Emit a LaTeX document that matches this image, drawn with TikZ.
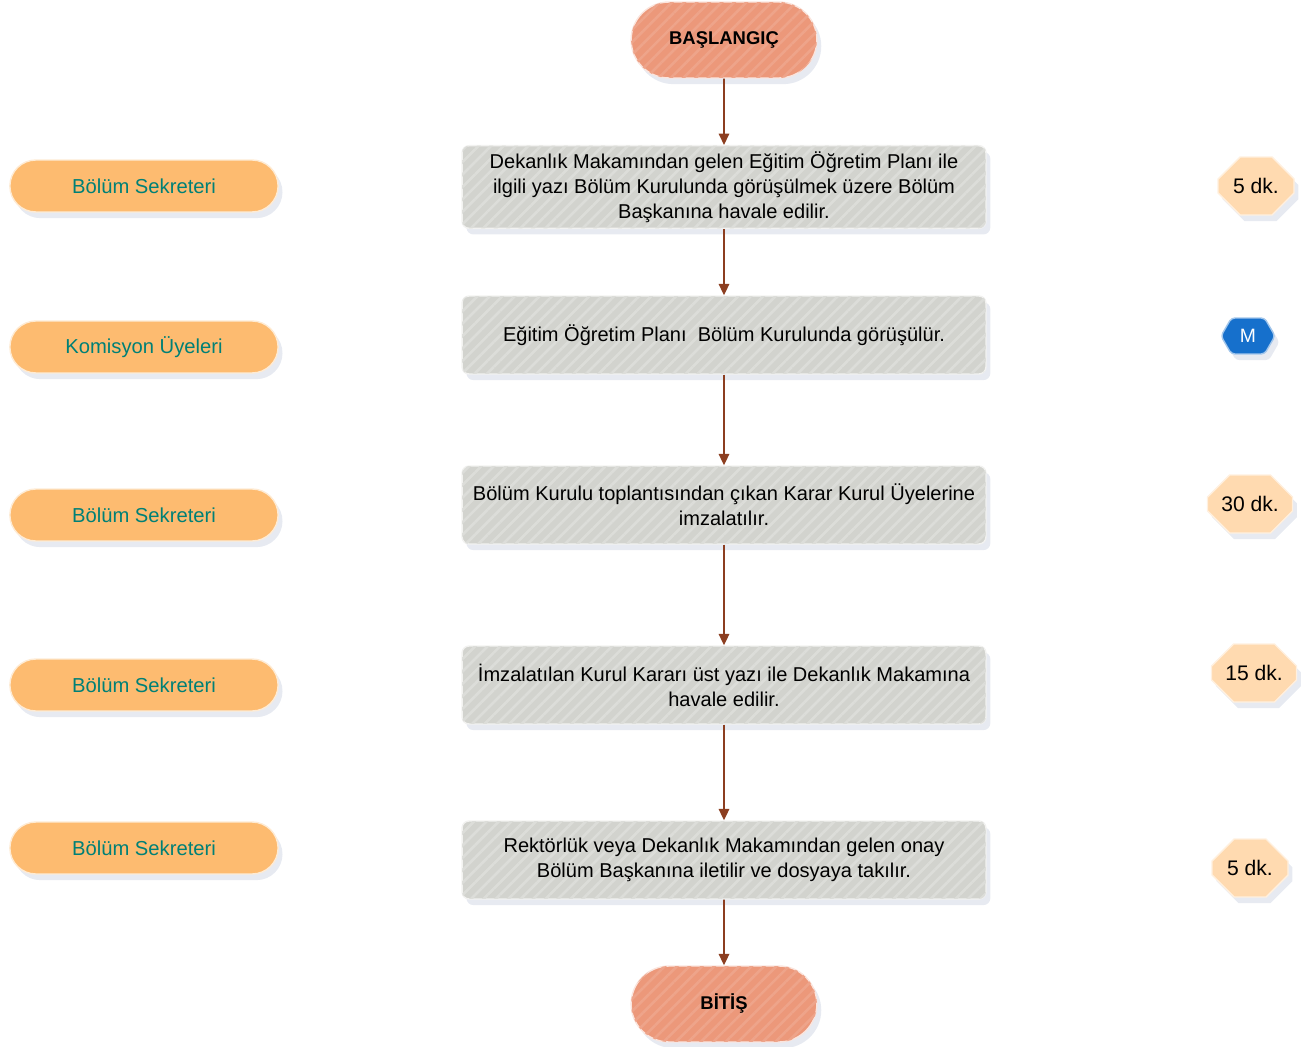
\documentclass[tikz,border=0pt]{standalone}
\usepackage{fontspec}
\setmainfont{Liberation Sans}
\usetikzlibrary{arrows.meta,shapes.misc,shapes.symbols,shadows,patterns.meta}

\definecolor{terminal}{RGB}{236,152,122}
\definecolor{stepgray}{RGB}{210,211,206}
\definecolor{rolefill}{RGB}{253,187,112}
\definecolor{roletext}{RGB}{0,128,118}
\definecolor{timefill}{RGB}{255,218,176}
\definecolor{mblue}{RGB}{22,112,204}
\definecolor{arrowcol}{RGB}{140,62,32}
\definecolor{shade}{RGB}{175,185,210}

\tikzset{
  stripes/.style={postaction={pattern={Lines[angle=45,distance=5pt,line width=1.5pt]},pattern color=#1}},
  soft shadow/.style={drop shadow={shadow xshift=2.5pt,shadow yshift=-3.5pt,opacity=0.3,fill=shade}},
  terminator/.style={rounded rectangle,minimum width=3.95cm,minimum height=1.52cm,
    fill=terminal,draw=white!75!terminal,line width=0.8pt,soft shadow,stripes=white!12!terminal,
    font=\fontsize{10.5pt}{12pt}\selectfont\bfseries},
  stepbox/.style={rectangle,rounded corners=4pt,minimum width=10.48cm,minimum height=1.56cm,
    fill=stepgray,draw=white!70!stepgray,line width=0.8pt,soft shadow,stripes=white!22!stepgray,align=center,
    font=\fontsize{11.4pt}{14.2pt}\selectfont},
  role/.style={rounded rectangle,minimum width=5.6cm,minimum height=1.04cm,
    fill=rolefill,draw=white!70!rolefill,line width=0.8pt,soft shadow,text=roletext,
    font=\fontsize{11.5pt}{13pt}\selectfont},
  timebox/.style={chamfered rectangle,chamfered rectangle xsep=0.25cm,chamfered rectangle ysep=0.25cm,
    minimum width=1.52cm,minimum height=1.16cm,inner sep=1pt,
    fill=timefill,draw=white!60!timefill,line width=0.8pt,soft shadow,
    font=\fontsize{12pt}{13pt}\selectfont},
  mbox/.style={signal,signal to=east and west,signal pointer angle=120,rounded corners=2pt,
    minimum width=1.08cm,minimum height=0.72cm,inner sep=1pt,
    fill=mblue,draw=white!60!mblue,line width=0.8pt,text=white,soft shadow,
    font=\fontsize{11pt}{12pt}\selectfont},
  flow/.style={draw=arrowcol,line width=0.9pt,-{Triangle[width=6pt,length=6.5pt]}}
}

\begin{document}
\begin{tikzpicture}[x=0.02cm,y=-0.02cm]
\useasboundingbox (0,0) rectangle (1302,1047);
% start
  \node[terminator] (start) at (724,40) {BAŞLANGIÇ};
% steps
  \node[stepbox] (s1) at (724,187) {Dekanlık Makamından gelen Eğitim Öğretim Planı ile\\ilgili yazı Bölüm Kurulunda görüşülmek üzere Bölüm\\Başkanına havale edilir.};
  \node[stepbox] (s2) at (724,335) {Eğitim Öğretim Planı\ \ Bölüm Kurulunda görüşülür.};
  \node[stepbox] (s3) at (724,505) {Bölüm Kurulu toplantısından çıkan Karar Kurul Üyelerine\\imzalatılır.};
  \node[stepbox] (s4) at (724,685) {İmzalatılan Kurul Kararı üst yazı ile Dekanlık Makamına\\havale edilir.};
  \node[stepbox] (s5) at (724,860) {Rektörlük veya Dekanlık Makamından gelen onay\\Bölüm Başkanına iletilir ve dosyaya takılır.};
% end
  \node[terminator] (finish) at (724,1004) {BİTİŞ};
% roles
  \node[role] (r1) at (144,186) {Bölüm Sekreteri};
  \node[role] (r2) at (144,347) {Komisyon Üyeleri};
  \node[role] (r3) at (144,515) {Bölüm Sekreteri};
  \node[role] (r4) at (144,685) {Bölüm Sekreteri};
  \node[role] (r5) at (144,848) {Bölüm Sekreteri};
% durations
  \node[timebox] (t1) at (1256,186) {5 dk.};
  \node[mbox] (t2) at (1248,336) {M};
  \node[timebox,minimum width=1.7cm] (t3) at (1250,504) {30 dk.};
  \node[timebox,minimum width=1.7cm] (t4) at (1254,673) {15 dk.};
  \node[timebox] (t5) at (1250,868) {5 dk.};
% flow
  \draw[flow] (start) -- (s1);
  \draw[flow] (s1) -- (s2);
  \draw[flow] (s2) -- (s3);
  \draw[flow] (s3) -- (s4);
  \draw[flow] (s4) -- (s5);
  \draw[flow] (s5) -- (finish);
\end{tikzpicture}
\end{document}
